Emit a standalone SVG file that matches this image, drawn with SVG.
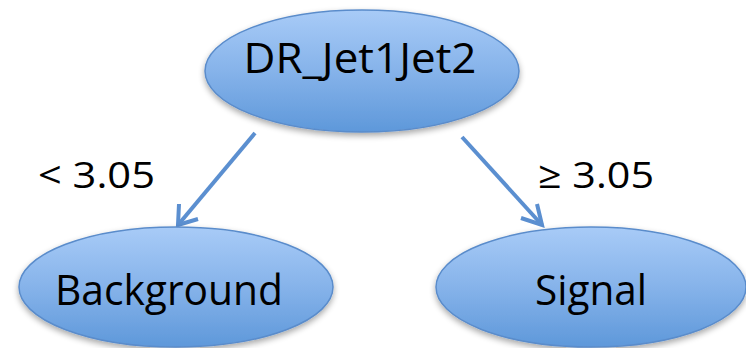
<svg xmlns="http://www.w3.org/2000/svg" width="746" height="348" viewBox="0 0 746 348">
  <defs>
    <linearGradient id="fill" x1="0" y1="0" x2="0" y2="1">
      <stop offset="0" stop-color="#A8CBF7"/>
      <stop offset="0.5" stop-color="#86B3EA"/>
      <stop offset="1" stop-color="#5E98DA"/>
    </linearGradient>
    <filter id="shadow" x="-10%" y="-10%" width="120%" height="130%">
      <feGaussianBlur in="SourceAlpha" stdDeviation="3"/>
      <feOffset dx="0" dy="3" result="b"/>
      <feComponentTransfer><feFuncA type="linear" slope="0.35"/></feComponentTransfer>
      <feMerge><feMergeNode/><feMergeNode in="SourceGraphic"/></feMerge>
    </filter>
  </defs>
  <style>
    .node ellipse { fill: url(#fill); stroke: #5A8CCB; stroke-width: 1.5; filter: url(#shadow); }
    .label { font-family: "Open Sans", "Liberation Sans", sans-serif; fill: #000; }
    .main { font-size: 42px; text-anchor: middle; }
    .edge { font-size: 37px; }
    .conn { stroke: #5B8FD0; stroke-width: 4; fill: none; stroke-linecap: butt; stroke-linejoin: miter; }
  </style>
  <rect width="746" height="348" fill="#FFFFFF"/>
  <g id="connectors">
    <line class="conn" x1="255" y1="133" x2="178" y2="225"/>
    <polyline class="conn" points="179,204 178,225 198,219"/>
    <line class="conn" x1="462" y1="137" x2="542" y2="225"/>
    <polyline class="conn" points="537,204 542,225 521,218"/>
    <text class="label edge" x="38" y="188" textLength="117" lengthAdjust="spacingAndGlyphs">&lt; 3.05</text>
    <text class="label edge" x="538" y="188" textLength="116" lengthAdjust="spacingAndGlyphs">≥ 3.05</text>
  </g>
  <g id="node-root" class="node">
    <ellipse cx="362" cy="71" rx="157" ry="61"/>
    <text class="label main" x="360" y="73" textLength="233" lengthAdjust="spacingAndGlyphs">DR_Jet1Jet2</text>
  </g>
  <g id="node-background" class="node">
    <ellipse cx="176" cy="287" rx="157" ry="60"/>
    <text class="label main" x="169" y="305" textLength="228" lengthAdjust="spacingAndGlyphs">Background</text>
  </g>
  <g id="node-signal" class="node">
    <ellipse cx="591" cy="287" rx="155" ry="60"/>
    <text class="label main" x="591" y="305" textLength="112" lengthAdjust="spacingAndGlyphs">Signal</text>
  </g>
</svg>
